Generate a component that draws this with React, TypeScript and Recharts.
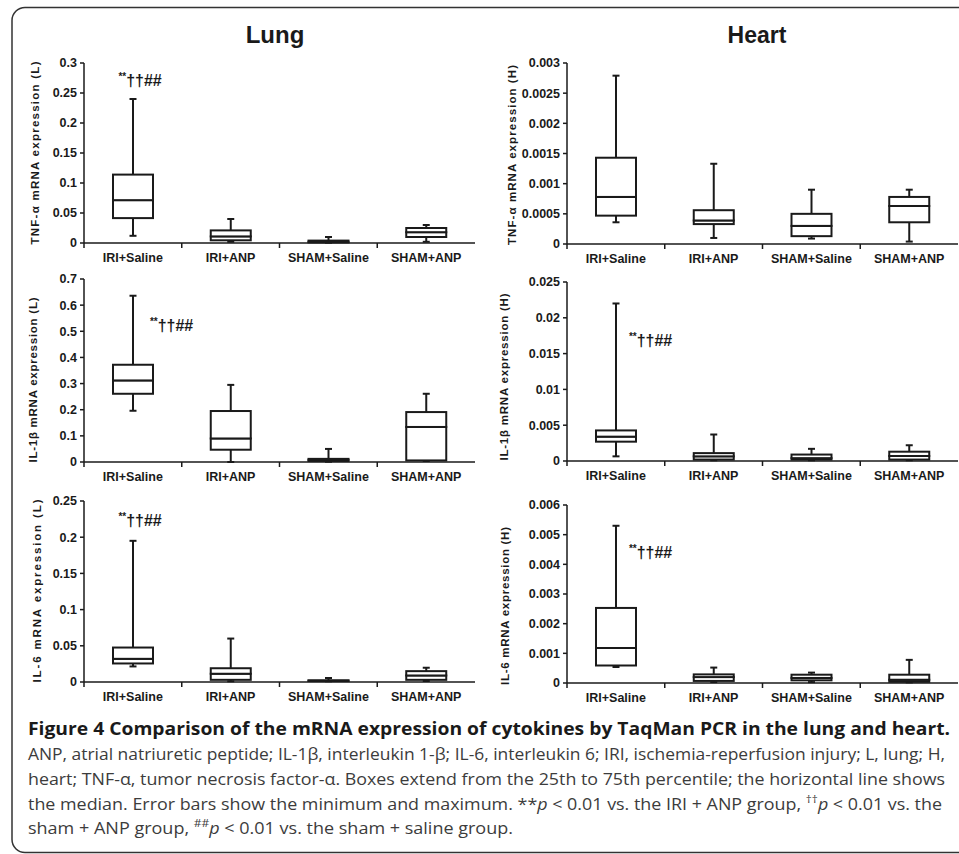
import React from 'react';
import { ComposedChart, Bar, XAxis, YAxis, ReferenceDot } from 'recharts';

const groups = ['IRI+Saline', 'IRI+ANP', 'SHAM+Saline', 'SHAM+ANP'];

// Lung TNF-α
const lungTnfMin = [0.012, 0.002, 0.0005, 0.002];
const lungTnfQ1 = [0.0415, 0.0045, 0.001, 0.01];
const lungTnfMedian = [0.0714, 0.011, 0.002, 0.018];
const lungTnfQ3 = [0.114, 0.021, 0.004, 0.025];
const lungTnfMax = [0.24, 0.04, 0.01, 0.03];
const lungTnfTicks = [0, 0.05, 0.1, 0.15, 0.2, 0.25, 0.3];

// Heart TNF-α
const heartTnfMin = [0.00036, 0.0001, 0.00009, 0.00004];
const heartTnfQ1 = [0.00047, 0.00033, 0.00013, 0.00036];
const heartTnfMedian = [0.00078, 0.00039, 0.0003, 0.00063];
const heartTnfQ3 = [0.00143, 0.00056, 0.0005, 0.00078];
const heartTnfMax = [0.00279, 0.00133, 0.0009, 0.0009];
const heartTnfTicks = [0, 0.0005, 0.001, 0.0015, 0.002, 0.0025, 0.003];

// Lung IL-1β
const lungIl1Min = [0.196, 0, 0.001, 0.004];
const lungIl1Q1 = [0.261, 0.047, 0.004, 0.006];
const lungIl1Median = [0.312, 0.09, 0.008, 0.134];
const lungIl1Q3 = [0.372, 0.195, 0.012, 0.191];
const lungIl1Max = [0.636, 0.295, 0.05, 0.261];
const lungIl1Ticks = [0, 0.1, 0.2, 0.3, 0.4, 0.5, 0.6, 0.7];

// Heart IL-1β
const heartIl1Min = [0.00065, 0.0001, 0.0001, 0.0001];
const heartIl1Q1 = [0.0027, 0.0002, 0.0002, 0.0002];
const heartIl1Median = [0.0034, 0.00065, 0.0004, 0.0007];
const heartIl1Q3 = [0.00427, 0.0011, 0.0009, 0.0013];
const heartIl1Max = [0.022, 0.0037, 0.0017, 0.0022];
const heartIl1Ticks = [0, 0.005, 0.01, 0.015, 0.02, 0.025];

// Lung IL-6
const lungIl6Min = [0.0215, 0.001, 0.001, 0.0014];
const lungIl6Q1 = [0.0256, 0.003, 0.0014, 0.003];
const lungIl6Median = [0.032, 0.0114, 0.0018, 0.009];
const lungIl6Q3 = [0.0476, 0.019, 0.0023, 0.015];
const lungIl6Max = [0.195, 0.06, 0.0055, 0.0197];
const lungIl6Ticks = [0, 0.05, 0.1, 0.15, 0.2, 0.25];

// Heart IL-6
const heartIl6Min = [0.00054, 0.00003, 0.00003, 0.00002];
const heartIl6Q1 = [0.00059, 0.00007, 0.00009, 0.00004];
const heartIl6Median = [0.00118, 0.0002, 0.00017, 0.00011];
const heartIl6Q3 = [0.00253, 0.00029, 0.00028, 0.00028];
const heartIl6Max = [0.0053, 0.00052, 0.00035, 0.00078];
const heartIl6Ticks = [0, 0.001, 0.002, 0.003, 0.004, 0.005, 0.006];

// significance marks: group and the value the text sits at
const annotText = '††##';
const lungTnfAnnot = { group: 'IRI+Saline', value: 0.272 };
const lungIl1Annot = { group: 'IRI+Saline', value: 0.524 };
const heartIl1Annot = { group: 'IRI+Saline', value: 0.0169 };
const lungIl6Annot = { group: 'IRI+Saline', value: 0.224 };
const heartIl6Annot = { group: 'IRI+Saline', value: 0.00442 };

const ink = '#1a1a1a';
const axisFont = "'Liberation Sans', Arial, sans-serif";
const captionFont = "'Open Sans', 'Noto Sans', sans-serif";
const SW = 2;
const CAP = 7;
const BAR_W = 40;

function buildRows(min: number[], q1: number[], med: number[], q3: number[], max: number[]) {
  return groups.map((name, i) => ({
    name,
    base: min[i],
    lowWhisker: q1[i] - min[i],
    lowBox: med[i] - q1[i],
    highBox: q3[i] - med[i],
    highWhisker: max[i] - q3[i],
  }));
}

const Empty = () => <g />;

const LowerWhisker = (p: any) => {
  const cx = p.x + p.width / 2;
  const bottom = p.y + p.height;
  return (
    <g>
      <line x1={cx} x2={cx} y1={p.y} y2={bottom} stroke={ink} strokeWidth={SW} />
      <line x1={cx - CAP / 2} x2={cx + CAP / 2} y1={bottom} y2={bottom} stroke={ink} strokeWidth={SW} />
    </g>
  );
};

const UpperWhisker = (p: any) => {
  const cx = p.x + p.width / 2;
  return (
    <g>
      <line x1={cx} x2={cx} y1={p.y} y2={p.y + p.height} stroke={ink} strokeWidth={SW} />
      <line x1={cx - CAP / 2} x2={cx + CAP / 2} y1={p.y} y2={p.y} stroke={ink} strokeWidth={SW} />
    </g>
  );
};

const BoxPart = (p: any) => (
  <rect x={p.x} y={p.y} width={p.width} height={Math.max(p.height, 0)} fill="#fff" stroke={ink} strokeWidth={SW} />
);

const CategoryTick = (p: any) => {
  const half = p.payload?.offset || p.width / (2 * groups.length);
  return (
    <g>
      <line x1={p.x - half} x2={p.x - half} y1={p.y} y2={p.y + 5} stroke={ink} strokeWidth={1.5} />
      <text x={p.x} y={p.y + 19} textAnchor="middle" fontFamily={axisFont} fontWeight="bold" fontSize={12.5} fill={ink}>
        {p.payload.value}
      </text>
    </g>
  );
};

const annotLabel = (dx: number) => (props: any) => {
  const vb = props.viewBox || {};
  const x = (vb.x ?? 0) + (vb.width ?? 0) / 2 + dx;
  const y = (vb.y ?? 0) + (vb.height ?? 0) / 2 + 6;
  return (
    <text x={x} y={y} fill={ink} fontFamily={axisFont} fontWeight="bold">
      <tspan fontSize={10} dy={-6}>**</tspan>
      <tspan fontSize={16} dy={6}>{annotText}</tspan>
    </text>
  );
};

type PanelProps = {
  rows: any[];
  ticks: number[];
  yLabel: string;
  annot?: { group: string; value: number };
  left: number;
  width: number;
  axisX: number;
  plotRight: number;
  plotTop: number;
  plotBottom: number;
  labelX: number;
  labelY: number;
  labelLen: number;
  annotDx: number;
};

function BoxPanel(props: PanelProps) {
  const top = props.plotTop - 20;
  const height = props.plotBottom - props.plotTop + 20 + 32;
  const yAxisWidth = props.axisX - props.left;
  const yLabelContent = () => (
    <text
      x={props.labelX - props.left}
      y={props.labelY - top}
      transform={`rotate(-90 ${props.labelX - props.left} ${props.labelY - top})`}
      textAnchor="middle"
      dominantBaseline="central"
      fontFamily={axisFont}
      fontWeight="bold"
      fontSize={11.5}
      fill={ink}
      textLength={props.labelLen}
      lengthAdjust="spacing"
    >
      {props.yLabel}
    </text>
  );
  return (
    <div style={{ position: 'absolute', left: props.left, top }}>
      <ComposedChart
        width={props.width}
        height={height}
        data={props.rows}
        margin={{ top: 20, right: props.left + props.width - props.plotRight, bottom: 2, left: 0 }}
      >
        <XAxis
          dataKey="name"
          interval={0}
          height={30}
          tickLine={false}
          tickSize={0}
          tickMargin={0}
          axisLine={{ stroke: ink, strokeWidth: 1.5 }}
          tick={<CategoryTick />}
        />
        <YAxis
          type="number"
          width={yAxisWidth}
          domain={[props.ticks[0], props.ticks[props.ticks.length - 1]]}
          ticks={props.ticks}
          interval={0}
          tickSize={4}
          tickMargin={3}
          tickFormatter={(v: number) => String(v)}
          axisLine={{ stroke: ink, strokeWidth: 1.5 }}
          tickLine={{ stroke: ink, strokeWidth: 1.5 }}
          tick={{ fontFamily: axisFont, fontWeight: 'bold', fontSize: 12.5, fill: ink }}
          label={{ content: yLabelContent }}
        />
        <Bar dataKey="base" stackId="box" barSize={BAR_W} shape={<Empty />} isAnimationActive={false} />
        <Bar dataKey="lowWhisker" stackId="box" barSize={BAR_W} shape={<LowerWhisker />} isAnimationActive={false} />
        <Bar dataKey="lowBox" stackId="box" barSize={BAR_W} shape={<BoxPart />} isAnimationActive={false} />
        <Bar dataKey="highBox" stackId="box" barSize={BAR_W} shape={<BoxPart />} isAnimationActive={false} />
        <Bar dataKey="highWhisker" stackId="box" barSize={BAR_W} shape={<UpperWhisker />} isAnimationActive={false} />
        {props.annot && (
          <ReferenceDot
            x={props.annot.group}
            y={props.annot.value}
            r={0}
            fill="none"
            stroke="none"
            label={annotLabel(props.annotDx)}
          />
        )}
      </ComposedChart>
    </div>
  );
}

const lungBox = { left: 0, width: 480, axisX: 84, plotRight: 475 };
const heartBox = { left: 480, width: 479, axisX: 567, plotRight: 958 };

export default function App() {
  return (
    <div style={{ position: 'absolute', left: 0, top: 0, width: 959, height: 854, background: '#fff', overflow: 'hidden' }}>
      <svg width={959} height={854} style={{ position: 'absolute', left: 0, top: 0 }}>
        <rect x={12} y={7.5} width={1000} height={845} rx={13} fill="none" stroke="#333" strokeWidth={1.5} />
        <text x={275} y={43} textAnchor="middle" fontFamily={axisFont} fontWeight="bold" fontSize={24} fill={ink}>Lung</text>
        <text x={757} y={43} textAnchor="middle" fontFamily={axisFont} fontWeight="bold" fontSize={23} fill={ink}>Heart</text>
        <g fontFamily={captionFont}>
          <text x={28} y={735} fontSize={17.5} fontWeight="bold" fill="#1a1a1a" textLength={922} lengthAdjust="spacingAndGlyphs">
            Figure 4 Comparison of the mRNA expression of cytokines by TaqMan PCR in the lung and heart.
          </text>
          <text x={28} y={760} fontSize={16.5} fill="#3c3c3c" textLength={917} lengthAdjust="spacingAndGlyphs">
            ANP, atrial natriuretic peptide; IL-1β, interleukin 1-β; IL-6, interleukin 6; IRI, ischemia-reperfusion injury; L, lung; H,
          </text>
          <text x={28} y={785} fontSize={16.5} fill="#3c3c3c" textLength={917} lengthAdjust="spacingAndGlyphs">
            heart; TNF-α, tumor necrosis factor-α. Boxes extend from the 25th to 75th percentile; the horizontal line shows
          </text>
          <text x={28} y={810} fontSize={16.5} fill="#3c3c3c" textLength={914} lengthAdjust="spacingAndGlyphs">
            the median. Error bars show the minimum and maximum. **<tspan fontStyle="italic">p</tspan> &lt; 0.01 vs. the IRI + ANP group,{' '}
            <tspan fontSize={11} dy={-7}>††</tspan>
            <tspan fontStyle="italic" dy={7}>p</tspan> &lt; 0.01 vs. the
          </text>
          <text x={28} y={834} fontSize={16.5} fill="#3c3c3c" textLength={485} lengthAdjust="spacingAndGlyphs">
            sham + ANP group, <tspan fontSize={11} dy={-7}>##</tspan>
            <tspan fontStyle="italic" dy={7}>p</tspan> &lt; 0.01 vs. the sham + saline group.
          </text>
        </g>
      </svg>

      <BoxPanel
        {...lungBox}
        rows={buildRows(lungTnfMin, lungTnfQ1, lungTnfMedian, lungTnfQ3, lungTnfMax)}
        ticks={lungTnfTicks}
        yLabel="TNF-α  mRNA expression (L)"
        annot={lungTnfAnnot}
        annotDx={-14.5}
        plotTop={63}
        plotBottom={243}
        labelX={35}
        labelY={153}
        labelLen={183}
      />
      <BoxPanel
        {...heartBox}
        rows={buildRows(heartTnfMin, heartTnfQ1, heartTnfMedian, heartTnfQ3, heartTnfMax)}
        ticks={heartTnfTicks}
        yLabel="TNF-α mRNA expression (H)"
        annotDx={0}
        plotTop={63}
        plotBottom={244}
        labelX={512}
        labelY={155}
        labelLen={180}
      />
      <BoxPanel
        {...lungBox}
        rows={buildRows(lungIl1Min, lungIl1Q1, lungIl1Median, lungIl1Q3, lungIl1Max)}
        ticks={lungIl1Ticks}
        yLabel="IL-1β  mRNA expression (L)"
        annot={lungIl1Annot}
        annotDx={17}
        plotTop={279}
        plotBottom={462}
        labelX={33}
        labelY={380}
        labelLen={165}
      />
      <BoxPanel
        {...heartBox}
        rows={buildRows(heartIl1Min, heartIl1Q1, heartIl1Median, heartIl1Q3, heartIl1Max)}
        ticks={heartIl1Ticks}
        yLabel="IL-1β mRNA expression (H)"
        annot={heartIl1Annot}
        annotDx={13}
        plotTop={282}
        plotBottom={461}
        labelX={504}
        labelY={377}
        labelLen={167}
      />
      <BoxPanel
        {...lungBox}
        rows={buildRows(lungIl6Min, lungIl6Q1, lungIl6Median, lungIl6Q3, lungIl6Max)}
        ticks={lungIl6Ticks}
        yLabel="IL-6 mRNA expression (L)"
        annot={lungIl6Annot}
        annotDx={-14.5}
        plotTop={501}
        plotBottom={682}
        labelX={37}
        labelY={591}
        labelLen={183}
      />
      <BoxPanel
        {...heartBox}
        rows={buildRows(heartIl6Min, heartIl6Q1, heartIl6Median, heartIl6Q3, heartIl6Max)}
        ticks={heartIl6Ticks}
        yLabel="IL-6 mRNA  expression (H)"
        annot={heartIl6Annot}
        annotDx={13}
        plotTop={505}
        plotBottom={683}
        labelX={505}
        labelY={606}
        labelLen={158}
      />
    </div>
  );
}
